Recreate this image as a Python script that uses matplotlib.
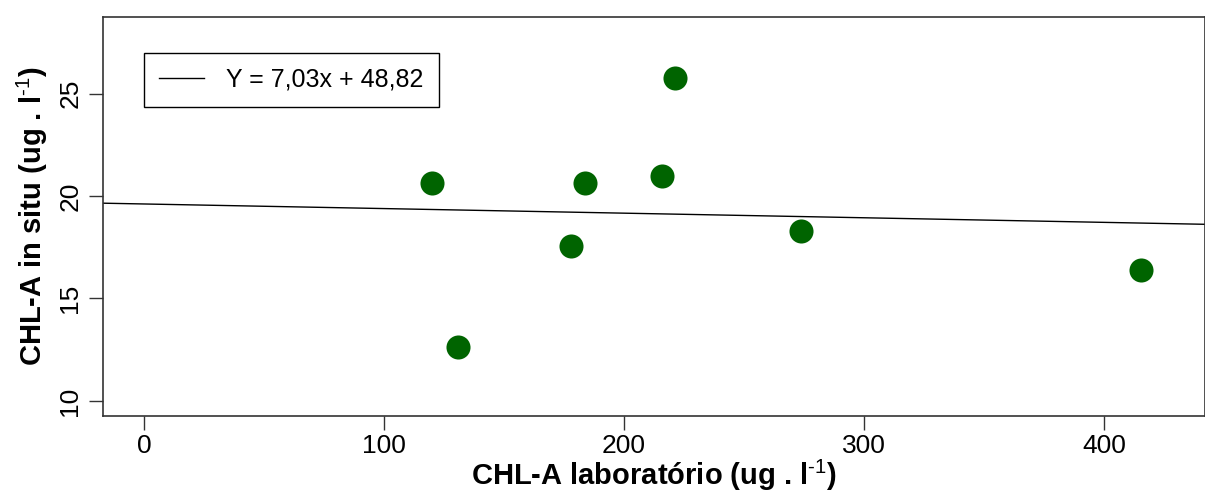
import numpy as np
import matplotlib
matplotlib.use("Agg")
import matplotlib.pyplot as plt

plt.rcParams['font.family'] = ['Liberation Sans', 'DejaVu Sans']
plt.rcParams['mathtext.fontset'] = 'custom'
plt.rcParams['mathtext.rm'] = 'Liberation Sans'
plt.rcParams['mathtext.bf'] = 'Liberation Sans:bold'

# valores
chl_lab = [120.0, 130.8, 177.9, 183.8, 215.8, 221.3, 273.8, 415.4]
chl_insitu = [20.65, 12.64, 17.57, 20.65, 20.99, 25.78, 18.31, 16.40]
legenda = "Y = 7,03x + 48,82"
xticks = [0, 100, 200, 300, 400]
yticks = [10, 15, 20, 25]

fig = plt.figure(figsize=(12.05, 4.98), dpi=100)
ax = fig.add_axes([103 / 1205, 1 - 415.7 / 498, 1 - 103 / 1205, (415.7 - 17.3) / 498])

# reta de regressao (lm)
coef = np.polyfit(chl_lab, chl_insitu, 1)
xl = np.array([-17.0, 442.0])
ax.plot(xl, np.polyval(coef, xl), color='black', lw=1, label=legenda)

ax.scatter(chl_lab, chl_insitu, s=300, color='#006400', zorder=3, linewidths=0)

ax.set_xlim(-17, 442)
ax.set_ylim(9.28, 28.72)
ax.set_xticks(xticks)
ax.set_yticks(yticks)
ax.tick_params(axis='both', direction='out', length=10, width=1, labelsize=19, color='#333333')
ax.tick_params(axis='x', pad=3)
ax.tick_params(axis='y', pad=5)
for lab in ax.get_yticklabels():
    lab.set_rotation(90)
    lab.set_va('center')
for sp in ax.spines.values():
    sp.set_color('#333333')
    sp.set_linewidth(1.2)

ax.set_xlabel(r"CHL-A laboratório (ug . l$^{\text{-1}}$)", fontsize=21, fontweight='bold', labelpad=0)
ax.set_ylabel(r"CHL-A in situ (ug . l$^{\text{-1}}$)", fontsize=21, fontweight='bold', labelpad=6)

leg = ax.legend(loc='upper left', bbox_to_anchor=((144 - 103) / 1102, (415.7 - 53) / 398.4),
                fontsize=18, fancybox=False, framealpha=1, edgecolor='black',
                handlelength=1.8, handletextpad=0.9, borderpad=0.6, borderaxespad=0)
leg.get_frame().set_linewidth(1)

fig.savefig("out.png", dpi=100)
